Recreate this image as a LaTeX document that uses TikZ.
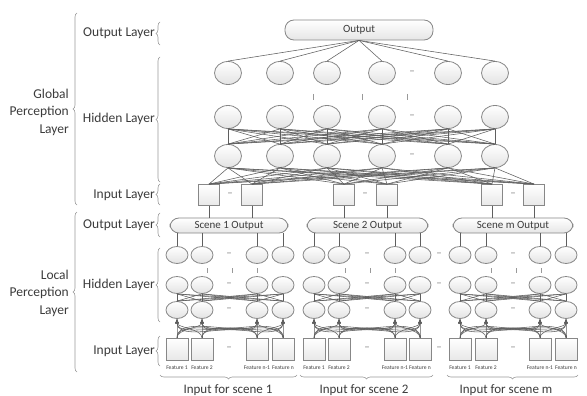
\documentclass[tikz,border=0pt]{standalone}
\usepackage{fontspec}
\setmainfont{Carlito}
\usetikzlibrary{decorations.pathreplacing,arrows.meta,shapes.geometric}
\definecolor{lncol}{RGB}{95,95,95}
\definecolor{txt}{RGB}{60,60,60}
\definecolor{nodeedge}{RGB}{135,135,135}
\tikzset{
  ln/.style={draw=lncol, line width=0.55pt},
  arr/.style={draw=lncol, line width=0.55pt, -{Latex[length=4.5pt,width=4pt]}},
  gcirc/.style={ellipse, draw=nodeedge, line width=0.8pt, top color=white, bottom color=gray!22, minimum width=27pt, minimum height=23pt, inner sep=0pt},
  lcirc/.style={ellipse, draw=nodeedge, line width=0.8pt, top color=white, bottom color=gray!22, minimum width=22pt, minimum height=17pt, inner sep=0pt},
  gsq/.style={rectangle, draw=nodeedge, line width=0.8pt, top color=white, bottom color=gray!18, minimum width=21pt, minimum height=21pt, inner sep=0pt},
  lsq/.style={rectangle, draw=nodeedge, line width=0.8pt, top color=white, bottom color=gray!18, minimum width=22pt, minimum height=22pt, inner sep=0pt},
  obox/.style={rectangle, rounded corners=9pt, draw=nodeedge, line width=0.8pt, top color=white, bottom color=gray!20, inner sep=0pt, text=txt, font=\fontsize{11}{12}\selectfont},
  lbl/.style={text=txt, font=\fontsize{13.5}{15}\selectfont, anchor=east, inner sep=0pt},
  grp/.style={text=txt, font=\fontsize{13.5}{17.5}\selectfont, align=right, anchor=east, inner sep=0pt},
  feat/.style={text=txt, font=\fontsize{5.6}{6.5}\selectfont, inner sep=0pt},
  dsh/.style={text=gray, font=\fontsize{11}{12}\selectfont, inner sep=0pt},
  brc/.style={draw=gray!80, line width=0.6pt, decorate, decoration={brace, amplitude=4pt}},
  vmark/.style={draw=gray!80, line width=0.6pt}
}
\begin{document}
\begin{tikzpicture}[x=1pt,y=-1pt]
\useasboundingbox (0,0) rectangle (587,396);
\fill[white] (0,0) rectangle (587,396);

% ---------- Global perception layer ----------
\node[obox, minimum width=148pt, minimum height=20pt] (out) at (359,30) {Output};
\foreach \x [count=\i] in {228,280,327,382,448,495} {
  \node[gcirc] (ga\i) at (\x,73) {};
  \node[gcirc] (gb\i) at (\x,117) {};
  \node[gcirc] (gc\i) at (\x,156) {};
}
\foreach \x [count=\i] in {209,252,344,387,492,534}
  \node[gsq] (gi\i) at (\x,195) {};

\foreach \i in {1,...,6} \draw[ln] (out.south) -- (ga\i.north);
\foreach \i in {1,...,6} \foreach \j in {1,...,6} \draw[ln] (gb\i.south) -- (gc\j.north);
\foreach \i in {1,...,6} \foreach \j in {1,...,6} \draw[ln] (gc\i.south) -- (gi\j.north);

\foreach \y/\n in {73/a,117/b,156/c} \node[dsh] (gd\n) at (412,\y) {--};
\foreach \x/\n in {230/1,365/2,513/3} \node[dsh] (gid\n) at (\x,195) {--};
\foreach \x in {313,362,407} \draw[vmark] (\x,94) -- (\x,100);

% ---------- Scene output boxes ----------
\node[obox, minimum width=118pt, minimum height=15pt] (s1) at (229,225.5) {Scene 1 Output};
\node[obox, minimum width=121pt, minimum height=15pt] (s2) at (367.5,225.5) {Scene 2 Output};
\node[obox, minimum width=120pt, minimum height=15pt] (s3) at (513,225.5) {Scene m Output};

\draw[ln] (gi1.south) -- (s1.north -| gi1.south);
\draw[ln] (gi2.south) -- (s1.north -| gi2.south);
\draw[ln] (gi3.south) -- (s2.north -| gi3.south);
\draw[ln] (gi4.south) -- (s2.north -| gi4.south);
\draw[ln] (gi5.south) -- (s3.north -| gi5.south);
\draw[ln] (gi6.south) -- (s3.north -| gi6.south);

% ---------- Local perception layer ----------
\foreach \s/\a/\b/\c/\d/\m in {1/177/202/257/283/229, 2/314/339/395/420/367, 3/460/486/540/566/513} {
  \foreach \x [count=\i] in {\a,\b,\c,\d} {
    \node[lcirc] (lt\s\i) at (\x,255) {};
    \node[lcirc] (lm\s\i) at (\x,285) {};
    \node[lcirc] (lb\s\i) at (\x,310) {};
    \node[lsq] (li\s\i) at (\x,349) {};
    \draw[ln] (lt\s\i.north |- s\s.south) -- (lt\s\i.north);
  }
  \node[feat] (f\s1) at (\a,368) {Feature 1};
  \node[feat] (f\s2) at (\b,368) {Feature 2};
  \node[feat] (f\s3) at (\c,368) {Feature n-1};
  \node[feat] (f\s4) at (\d,368) {Feature n};
  \foreach \i in {1,...,4} \foreach \j in {1,...,4} {
    \draw[ln] (lm\s\i.south) -- (lb\s\j.north);
    \draw[arr] (li\s\i.north) to[out=90, in=-90, looseness=0.7] (lb\s\j.south);
  }
  \foreach \y/\n in {255/t,285/m,310/b,349/i} \node[dsh] (ld\s\n) at (\m,\y) {--};
  \draw[vmark] (\m-22,268) -- (\m-22,273);
  \draw[vmark] (\m+3,268) -- (\m+3,273);
  \draw[vmark] (\m+28,268) -- (\m+28,273);
}
\foreach \y/\n in {255/t,285/m,349/i} \node[dsh] (bd\n) at (439,\y) {--};

% ---------- Bottom braces ----------
\draw[brc] (297,375) -- (160,375);
\draw[brc] (433,375) -- (300,375);
\draw[brc] (578,375) -- (447,375);
\node[text=txt, font=\fontsize{13}{15}\selectfont] (in1) at (228,390) {Input for scene 1};
\node[text=txt, font=\fontsize{13}{15}\selectfont] (in2) at (364,390) {Input for scene 2};
\node[text=txt, font=\fontsize{13}{15}\selectfont] (in3) at (506,390) {Input for scene m};

% ---------- Left labels ----------
\draw[brc] (160,45) -- (160,22);
\draw[brc] (160,182) -- (160,57);
\draw[brc] (160,205) -- (160,184);
\draw[brc] (160,237) -- (160,213);
\draw[brc] (160,322) -- (160,248);
\draw[brc] (160,366) -- (160,336);
\node[lbl] (l1) at (155,33) {Output Layer};
\node[lbl] (l2) at (155,119) {Hidden Layer};
\node[lbl] (l3) at (155,195) {Input Layer};
\node[lbl] (l4) at (155,225) {Output Layer};
\node[lbl] (l5) at (155,285) {Hidden Layer};
\node[lbl] (l6) at (155,351) {Input Layer};

\draw[brc] (77,205) -- (77,13);
\draw[brc] (77,372) -- (77,212);
\node[grp] (glob) at (69,112) {Global\\Perception\\Layer};
\node[grp] (loc) at (69,293) {Local\\Perception\\Layer};
\end{tikzpicture}
\end{document}
